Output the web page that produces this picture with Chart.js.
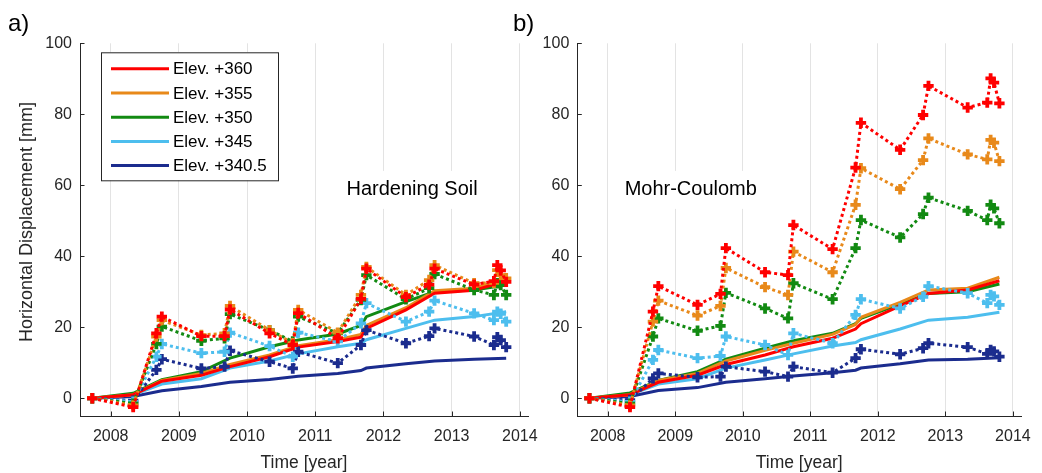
<!DOCTYPE html>
<html>
<head>
<meta charset="utf-8">
<script src="https://cdn.jsdelivr.net/npm/chart.js@4.4.1/dist/chart.umd.min.js"></script>
<style>
  html, body { margin: 0; padding: 0; background: #ffffff; }
  #wrap { position: relative; width: 1042px; height: 473px; overflow: hidden; background: #ffffff; }
  #wrap canvas { position: absolute; left: 0; top: 0; }
</style>
</head>
<body>
<div id="wrap">
  <canvas id="hs" width="1042" height="473" style="width:1042px;height:473px"></canvas>
  <canvas id="mc" width="1042" height="473" style="width:1042px;height:473px"></canvas>
</div>
<script>
// ---- time axes (decimal years) ----
const measuredDates = [2007.73, 2008.33, 2008.67, 2008.75, 2009.33, 2009.67, 2009.75, 2010.33, 2010.67, 2010.75,
                       2011.33, 2011.67, 2011.75, 2012.33, 2012.67, 2012.75, 2013.33, 2013.62, 2013.67, 2013.72, 2013.80];
const modelDates = [2007.73, 2008.33, 2008.75, 2009.33, 2009.75, 2010.33, 2010.75, 2011.33, 2011.67, 2011.75,
                    2012.33, 2012.75, 2013.33, 2013.80];

// ---- tick labels ----
const xTicks = [2008, 2009, 2010, 2011, 2012, 2013, 2014];
const yTicks = [0, 20, 40, 60, 80, 100];

// ---- series names ----
const elevations = ['Elev. +360', 'Elev. +355', 'Elev. +350', 'Elev. +345', 'Elev. +340.5'];

// ---- a) Hardening Soil: inclinometer readings [mm] ----
const hsMeas360   = [0, -2.5, 18.3, 23.0, 17.5, 17.5, 25.0, 18.3, 15.0, 24.0, 16.9, 28.0, 36.5, 28.5, 32.0, 36.5, 32.0, 33.0, 37.5, 36.0, 32.8];
const hsMeas355   = [0, -2.0, 17.4, 22.0, 17.8, 18.3, 26.0, 19.2, 15.5, 24.9, 18.5, 29.1, 37.0, 29.1, 33.3, 37.5, 32.4, 32.5, 36.1, 34.7, 33.8];
const hsMeas350   = [0, -1.5, 15.3, 20.2, 16.2, 16.9, 23.7, 19.2, 16.0, 23.0, 18.3, 27.7, 34.7, 27.9, 31.0, 35.0, 30.5, 29.1, 32.4, 31.9, 29.1];
const hsMeas345   = [0, -1.0, 11.7, 15.3, 12.7, 13.1, 18.5, 14.7, 11.7, 18.5, 16.0, 21.1, 26.8, 21.6, 24.4, 27.5, 23.9, 22.0, 24.4, 23.8, 21.6];
const hsMeas340_5 = [0, -0.7, 8.0, 11.0, 8.4, 8.9, 13.4, 10.3, 8.4, 13.1, 9.9, 15.0, 19.2, 15.5, 17.5, 19.7, 17.4, 15.0, 17.2, 16.4, 14.4];

// ---- a) Hardening Soil: computed [mm] ----
const hsModel360   = [0, 1.0, 4.8, 6.5, 8.9, 11.7, 14.4, 16.0, 17.2, 19.7, 24.9, 29.6, 30.4, 33.1];
const hsModel355   = [0, 1.0, 5.0, 7.0, 9.5, 12.2, 14.8, 16.5, 18.0, 20.5, 25.5, 30.3, 31.0, 33.6];
const hsModel350   = [0, 1.4, 5.2, 7.5, 11.3, 14.5, 16.4, 18.1, 20.5, 23.0, 27.2, 30.0, 30.5, 31.9];
const hsModel345   = [0, 1.0, 4.0, 5.5, 8.5, 10.5, 12.5, 14.5, 15.5, 16.5, 19.7, 22.0, 23.0, 24.4];
const hsModel340_5 = [0, 0.5, 2.1, 3.3, 4.5, 5.3, 6.2, 7.0, 7.8, 8.5, 9.7, 10.5, 11.0, 11.3];

// ---- b) Mohr-Coulomb: inclinometer readings [mm] ----
const mcMeas360   = [0, -2.5, 24.4, 31.6, 26.3, 29.4, 42.3, 35.5, 34.7, 48.8, 42.0, 65.0, 77.6, 70.0, 79.8, 88.0, 81.9, 83.3, 90.1, 88.9, 83.1];
const mcMeas355   = [0, -2.0, 21.6, 27.5, 23.3, 26.0, 36.7, 31.3, 29.1, 41.3, 35.5, 54.5, 64.8, 58.9, 67.1, 73.2, 68.7, 67.3, 72.8, 72.0, 66.8];
const mcMeas350   = [0, -1.5, 17.4, 22.5, 19.0, 20.4, 29.7, 25.3, 22.5, 32.4, 27.9, 42.3, 50.2, 45.3, 51.9, 56.5, 52.8, 50.2, 54.5, 53.5, 49.3];
const mcMeas345   = [0, -1.0, 10.8, 13.6, 11.3, 11.9, 17.4, 15.0, 12.2, 18.3, 15.5, 23.5, 27.9, 25.3, 28.6, 31.6, 29.6, 26.8, 29.1, 28.7, 26.3];
const mcMeas340_5 = [0, -0.5, 5.6, 7.0, 5.9, 6.1, 8.9, 7.5, 6.1, 8.9, 7.2, 11.3, 13.8, 12.4, 14.1, 15.5, 14.4, 12.5, 13.6, 13.2, 11.7];

// ---- b) Mohr-Coulomb: computed [mm] ----
const mcModel360   = [0, 1.0, 4.5, 6.5, 9.5, 12.2, 14.5, 16.9, 19.5, 21.0, 26.0, 29.5, 30.5, 33.1];
const mcModel355   = [0, 1.0, 5.0, 7.0, 10.5, 13.5, 15.5, 18.0, 20.8, 22.8, 27.0, 30.5, 31.0, 34.1];
const mcModel350   = [0, 1.5, 5.0, 7.5, 11.0, 14.1, 16.2, 18.3, 21.0, 22.5, 26.5, 29.5, 30.0, 32.2];
const mcModel345   = [0, 1.0, 4.0, 5.5, 8.5, 10.8, 12.5, 14.7, 15.7, 16.5, 19.5, 22.0, 22.8, 24.2];
const mcModel340_5 = [0, 0.5, 2.2, 3.0, 4.5, 5.5, 6.3, 7.2, 7.9, 8.5, 9.7, 10.8, 11.0, 11.4];

// ---- styling ----
const seriesColors = ['#ff0000', '#e8891a', '#128a12', '#4dbeee', '#1b2c8e'];
const FONT = '"Liberation Sans", Arial, Helvetica, sans-serif';
const AXIS_COLOR = '#262626';

Chart.defaults.font.family = FONT;

function pairs(xs, ys) {
  return ys.map((v, i) => ({ x: xs[i], y: v }));
}

function buildDatasets(models, measured) {
  const sets = [];
  models.forEach((vals, i) => {
    sets.push({
      label: elevations[i],
      data: pairs(modelDates, vals),
      borderColor: seriesColors[i],
      backgroundColor: seriesColors[i],
      borderWidth: 3,
      pointRadius: 0,
      tension: 0,
      order: 10 + i,
      isModel: true
    });
  });
  measured.forEach((vals, i) => {
    sets.push({
      label: elevations[i] + ' (measured)',
      data: pairs(measuredDates, vals),
      borderColor: seriesColors[i],
      backgroundColor: seriesColors[i],
      borderWidth: 3,
      borderDash: [3, 3],
      borderCapStyle: 'butt',
      pointStyle: 'cross',
      pointRadius: 5.2,
      pointBorderWidth: 3.8,
      pointBackgroundColor: seriesColors[i],
      pointBorderColor: seriesColors[i],
      tension: 0,
      order: i,
      isModel: false
    });
  });
  return sets;
}

// Axes decorations, inward ticks, labels and the legend box
const panelDecor = {
  id: 'panelDecor',
  beforeDatasetsDraw(chart, args, opts) {
    const ctx = chart.ctx;
    const xs = chart.scales.x, ys = chart.scales.y;
    ctx.save();
    ctx.font = '20px ' + FONT;
    const w = ctx.measureText(opts.model).width;
    const cx = xs.getPixelForValue(opts.modelAt[0]);
    const cy = ys.getPixelForValue(opts.modelAt[1]);
    ctx.fillStyle = '#ffffff';
    ctx.fillRect(cx - w / 2 - 7, cy - 19, w + 14, 38);
    ctx.restore();
  },
  afterDraw(chart, args, opts) {
    const ctx = chart.ctx;
    const a = chart.chartArea;
    const xs = chart.scales.x, ys = chart.scales.y;
    ctx.save();

    // inward tick marks
    ctx.strokeStyle = AXIS_COLOR;
    ctx.lineWidth = 1;
    ctx.beginPath();
    xTicks.forEach(v => {
      const px = Math.round(xs.getPixelForValue(v)) + 0.5;
      ctx.moveTo(px, a.bottom);
      ctx.lineTo(px, a.bottom - 4.5);
    });
    yTicks.forEach(v => {
      const py = Math.round(ys.getPixelForValue(v)) + 0.5;
      ctx.moveTo(a.left, py);
      ctx.lineTo(a.left + 4.5, py);
    });
    ctx.stroke();

    // model name
    ctx.fillStyle = '#000000';
    ctx.font = '20px ' + FONT;
    ctx.textAlign = 'center';
    ctx.textBaseline = 'middle';
    ctx.fillText(opts.model, xs.getPixelForValue(opts.modelAt[0]), ys.getPixelForValue(opts.modelAt[1]));

    // x axis title
    ctx.fillStyle = AXIS_COLOR;
    ctx.font = '17.5px ' + FONT;
    ctx.fillText('Time [year]', (a.left + a.right) / 2, 463);

    // y axis title
    if (opts.yTitle) {
      ctx.save();
      ctx.font = '18px ' + FONT;
      ctx.translate(27.5, 222);
      ctx.rotate(-Math.PI / 2);
      ctx.fillText(opts.yTitle, 0, 0);
      ctx.restore();
    }

    // panel letter
    ctx.fillStyle = '#000000';
    ctx.font = '24px ' + FONT;
    ctx.textAlign = 'left';
    ctx.textBaseline = 'alphabetic';
    ctx.fillText(opts.letter, opts.letterX, 31);

    // legend with the computed lines
    if (opts.legend) {
      const bx = a.left + 21, by = a.top + 9, bw = 177, bh = 128;
      ctx.fillStyle = '#ffffff';
      ctx.fillRect(bx, by, bw, bh);
      ctx.strokeStyle = AXIS_COLOR;
      ctx.lineWidth = 1;
      ctx.strokeRect(bx + 0.5, by + 0.5, bw, bh);
      const models = chart.data.datasets.filter(d => d.isModel);
      ctx.font = '17px ' + FONT;
      ctx.textBaseline = 'middle';
      models.forEach((d, i) => {
        const y = by + 16.5 + i * 24.2;
        ctx.strokeStyle = d.borderColor;
        ctx.lineWidth = 3;
        ctx.beginPath();
        ctx.moveTo(bx + 10, y);
        ctx.lineTo(bx + 68, y);
        ctx.stroke();
        ctx.fillStyle = '#000000';
        ctx.fillText(d.label, bx + 72, y + 1);
      });
    }
    ctx.restore();
  }
};

function makeChart(id, models, measured, decor, yWidth, padRight) {
  return new Chart(document.getElementById(id), {
    type: 'line',
    data: { datasets: buildDatasets(models, measured) },
    options: {
      responsive: false,
      animation: false,
      events: [],
      layout: { padding: { left: 0, right: padRight, top: 43.3, bottom: 0 } },
      plugins: {
        legend: { display: false },
        tooltip: { enabled: false },
        panelDecor: decor
      },
      scales: {
        x: {
          type: 'linear',
          min: 2007.55,
          max: 2014.12,
          afterBuildTicks: s => { s.ticks = xTicks.map(v => ({ value: v })); },
          afterFit: s => { s.height = 57; },
          grid: { display: true, drawTicks: false, color: '#e3e3e3', lineWidth: 1 },
          border: { display: true, color: AXIS_COLOR, width: 1 },
          ticks: {
            color: AXIS_COLOR,
            font: { size: 16 },
            padding: 11,
            maxRotation: 0,
            callback: v => String(v)
          }
        },
        y: {
          type: 'linear',
          min: -5,
          max: 100,
          afterBuildTicks: s => { s.ticks = yTicks.map(v => ({ value: v })); },
          afterFit: s => { s.width = yWidth; },
          grid: { display: false, drawTicks: false },
          border: { display: true, color: AXIS_COLOR, width: 1 },
          ticks: {
            color: AXIS_COLOR,
            font: { size: 16 },
            padding: 8,
            callback: v => String(v)
          }
        }
      }
    },
    plugins: [panelDecor]
  });
}

makeChart('hs',
  [hsModel360, hsModel355, hsModel350, hsModel345, hsModel340_5],
  [hsMeas360, hsMeas355, hsMeas350, hsMeas345, hsMeas340_5],
  { model: 'Hardening Soil', modelAt: [2012.42, 58.7], letter: 'a)', letterX: 8,
    legend: true, yTitle: 'Horizontal Displacement [mm]' },
  80, 1042 - 528);

makeChart('mc',
  [mcModel360, mcModel355, mcModel350, mcModel345, mcModel340_5],
  [mcMeas360, mcMeas355, mcMeas350, mcMeas345, mcMeas340_5],
  { model: 'Mohr-Coulomb', modelAt: [2009.23, 58.7], letter: 'b)', letterX: 513,
    legend: false, yTitle: null },
  577.3, 1042 - 1025.7);
</script>
</body>
</html>
